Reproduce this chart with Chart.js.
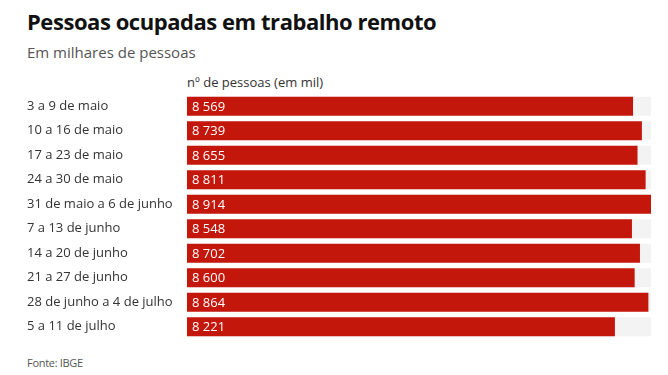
<!DOCTYPE html>
<html>
<head>
<meta charset="utf-8">
<script src="https://cdn.jsdelivr.net/npm/chart.js@4"></script>
<style>
  body { margin: 0; background: #fff; font-family: "Open Sans", sans-serif; }
  .wrap { position: relative; width: 668px; height: 375px; overflow: hidden; }
  .title { position: absolute; left: 27px; top: 6px; font-size: 22px; font-weight: 700; color: #111; line-height: 30px; letter-spacing: -0.45px; }
  .subtitle { position: absolute; left: 27px; top: 42px; font-size: 15px; color: #555; line-height: 20px; }
  .header { position: absolute; left: 187px; top: 73px; font-size: 13px; color: #333; line-height: 18px; }
  .source { position: absolute; left: 27px; top: 355px; font-size: 11px; color: #555; line-height: 15px; letter-spacing: -0.3px; }
  .chart-box { position: absolute; left: 27px; top: 94px; width: 624px; height: 245px; }
</style>
</head>
<body>
<div class="wrap">
  <div class="title">Pessoas ocupadas em trabalho remoto</div>
  <div class="subtitle">Em milhares de pessoas</div>
  <div class="header">nº de pessoas (em mil)</div>
  <div class="chart-box"><canvas id="chart"></canvas></div>
  <div class="source">Fonte: IBGE</div>
</div>
<script>
// semanas e valores (milhares de pessoas)
const weeks = [
  '3 a 9 de maio',
  '10 a 16 de maio',
  '17 a 23 de maio',
  '24 a 30 de maio',
  '31 de maio a 6 de junho',
  '7 a 13 de junho',
  '14 a 20 de junho',
  '21 a 27 de junho',
  '28 de junho a 4 de julho',
  '5 a 11 de julho'
];
const people = [8569, 8739, 8655, 8811, 8914, 8548, 8702, 8600, 8864, 8221];
const maxValue = Math.max(...people);

function fmt(v) {
  return String(v).replace(/\B(?=(\d{3})+(?!\d))/g, ' ');
}

// rótulos dos valores dentro das barras
const valueLabels = {
  id: 'valueLabels',
  afterDatasetsDraw(chart) {
    const ctx = chart.ctx;
    const meta = chart.getDatasetMeta(0);
    ctx.save();
    ctx.font = '13px "Open Sans"';
    ctx.fillStyle = '#fff';
    ctx.textAlign = 'left';
    ctx.textBaseline = 'middle';
    meta.data.forEach((bar, i) => {
      ctx.fillText(fmt(people[i]), bar.base + 5, bar.y + 1);
    });
    ctx.restore();
  }
};

new Chart(document.getElementById('chart'), {
  type: 'bar',
  data: {
    labels: weeks,
    datasets: [
      {
        data: people,
        backgroundColor: '#c4170c',
        categoryPercentage: 1,
        barPercentage: 0.78,
        grouped: false,
        order: 0
      },
      {
        data: people.map(() => maxValue),
        backgroundColor: '#f3f3f3',
        categoryPercentage: 1,
        barPercentage: 0.78,
        grouped: false,
        order: 1
      }
    ]
  },
  options: {
    indexAxis: 'y',
    responsive: true,
    maintainAspectRatio: false,
    animation: false,
    layout: { padding: 0 },
    plugins: { legend: { display: false }, tooltip: { enabled: false } },
    scales: {
      x: { display: false, min: 0, max: maxValue },
      y: {
        grid: { display: false, drawTicks: false },
        border: { display: false },
        ticks: {
          crossAlign: 'far',
          padding: 0,
          color: '#333',
          font: { family: 'Open Sans', size: 13 }
        },
        afterFit(scale) {
          scale.width = 160;
          scale.paddingTop = 0;
          scale.paddingBottom = 0;
        }
      }
    }
  },
  plugins: [valueLabels]
});
</script>
</body>
</html>
